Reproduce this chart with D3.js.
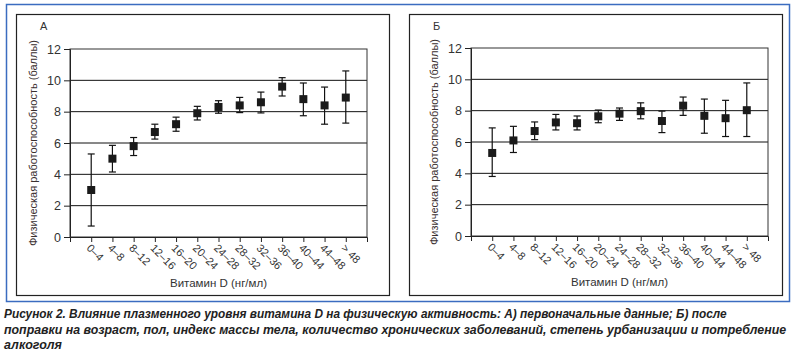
<!DOCTYPE html>
<html>
<head>
<meta charset="utf-8">
<script src="https://cdn.jsdelivr.net/npm/d3@7"></script>
<style>
  body { margin: 0; background: #fff; }
  text { font-family: "Liberation Sans", Arial, sans-serif; }
</style>
</head>
<body>
<div id="chart"></div>
<script>
let width = 797,
    height = 353;

const categories = ["0–4", "4–8", "8–12", "12–16", "16–20", "20–24", "24–28", "28–32", "32–36", "36–40", "40–44", "44–48", "> 48"];

// panel A: raw data
const meanA = [3.0, 5.0, 5.8, 6.7, 7.2, 7.9, 8.3, 8.4, 8.6, 9.6, 8.8, 8.4, 8.9];
const lowA  = [0.7, 4.15, 5.2, 6.25, 6.75, 7.47, 7.9, 7.94, 7.92, 9.0, 7.74, 7.2, 7.27];
const highA = [5.3, 5.85, 6.35, 7.2, 7.65, 8.34, 8.7, 8.91, 9.25, 10.17, 9.83, 9.57, 10.6];

// panel Б: adjusted
const meanB = [5.3, 6.1, 6.7, 7.25, 7.2, 7.64, 7.81, 7.97, 7.34, 8.32, 7.67, 7.52, 8.03];
const lowB  = [3.8, 5.33, 6.15, 6.77, 6.77, 7.23, 7.38, 7.48, 6.6, 7.7, 6.56, 6.35, 6.35];
const highB = [6.9, 7.0, 7.28, 7.76, 7.66, 8.04, 8.17, 8.5, 7.97, 8.87, 8.74, 8.66, 9.77];

const yTicks = [0, 2, 4, 6, 8, 10, 12];

const captionLines = [
  "Рисунок 2. Влияние плазменного уровня витамина D на физическую активность: А) первоначальные данные; Б) после",
  "поправки на возраст, пол, индекс массы тела, количество хронических заболеваний, степень урбанизации и потребление",
  "алкоголя"
];
const captionWidths = [723, 783, 58];

const svg = d3.select("#chart")
  .append("svg")
  .attr("width", width)
  .attr("height", height);

// blue frame round both panels
svg.append("rect")
  .attr("x", 6.5).attr("y", 4.5)
  .attr("width", 783).attr("height", 297)
  .attr("fill", "none")
  .attr("stroke", "#3b6cc0")
  .attr("stroke-width", 1.5);

function drawPanel(label, mean, low, high, box, plot) {
  const g = svg.append("g");

  g.append("rect")
    .attr("x", box.x + 0.5).attr("y", box.y + 0.5)
    .attr("width", box.w).attr("height", box.h)
    .attr("fill", "none").attr("stroke", "#222").attr("stroke-width", 1.2);

  g.append("text")
    .attr("x", box.x + 24).attr("y", box.y + 16)
    .attr("font-size", 11).attr("fill", "#333")
    .text(label);

  let x = d3.scalePoint()
    .domain(categories)
    .range([plot.l, plot.r])
    .padding(1);

  let y = d3.scaleLinear()
    .domain([0, 12])
    .range([plot.b, plot.t]);

  // grid lines
  g.append("g")
    .selectAll("line")
    .data(yTicks.slice(1, -1))
    .join("line")
    .attr("x1", plot.l).attr("x2", plot.r)
    .attr("y1", d => y(d)).attr("y2", d => y(d))
    .attr("stroke", "#111").attr("stroke-width", 1);

  // plot border
  g.append("rect")
    .attr("x", plot.l).attr("y", y(12))
    .attr("width", plot.r - plot.l).attr("height", y(0) - y(12))
    .attr("fill", "none").attr("stroke", "#333").attr("stroke-width", 1);

  const yAxis = g.append("g")
    .attr("transform", `translate(${plot.l},0)`)
    .call(d3.axisLeft(y).tickValues(yTicks).tickSize(6).tickPadding(3));
  yAxis.selectAll("text").attr("font-size", 12.5).attr("fill", "#333")
    .style("font-family", "'Liberation Sans', Arial, sans-serif");
  yAxis.selectAll("line, path").attr("stroke", "#222");

  const xAxis = g.append("g")
    .attr("transform", `translate(0,${plot.b})`)
    .call(d3.axisBottom(x).tickSize(5).tickSizeOuter(5));
  xAxis.selectAll("line, path").attr("stroke", "#222");
  xAxis.selectAll("text")
    .attr("font-size", 11).attr("fill", "#333")
    .style("font-family", "'Liberation Sans', Arial, sans-serif")
    .attr("text-anchor", "start")
    .attr("y", 0).attr("dy", "0.35em")
    .attr("transform", "translate(-3,9) rotate(45)");

  g.append("text")
    .attr("x", (plot.l + plot.r) / 2).attr("y", plot.b + 50)
    .attr("text-anchor", "middle")
    .attr("font-size", 11.5).attr("fill", "#333")
    .text("Витамин D (нг/мл)");

  g.append("text")
    .attr("transform", `translate(${plot.l - 33},${(plot.t + plot.b) / 2}) rotate(-90)`)
    .attr("text-anchor", "middle")
    .attr("font-size", 11).attr("fill", "#3a3030")
    .text("Физическая работоспособность (баллы)");

  const pts = categories.map((c, i) => ({ c, m: mean[i], lo: low[i], hi: high[i] }));

  const marks = g.append("g").selectAll("g").data(pts).join("g");
  marks.append("line")
    .attr("x1", d => x(d.c)).attr("x2", d => x(d.c))
    .attr("y1", d => y(d.lo)).attr("y2", d => y(d.hi))
    .attr("stroke", "#111").attr("stroke-width", 1.2);
  marks.selectAll(".cap")
    .data(d => [[d.c, d.lo], [d.c, d.hi]])
    .join("line")
    .attr("x1", d => x(d[0]) - 3.5).attr("x2", d => x(d[0]) + 3.5)
    .attr("y1", d => y(d[1])).attr("y2", d => y(d[1]))
    .attr("stroke", "#111").attr("stroke-width", 1.2);
  marks.append("rect")
    .attr("x", d => x(d.c) - 4).attr("y", d => y(d.m) - 4)
    .attr("width", 8).attr("height", 8)
    .attr("fill", "#1a1a1a");
}

drawPanel("А", meanA, lowA, highA, { x: 16, y: 14, w: 373, h: 281 }, { l: 70, t: 49, r: 367, b: 237 });
drawPanel("Б", meanB, lowB, highB, { x: 409, y: 14, w: 373, h: 281 }, { l: 471, t: 48, r: 768, b: 236 });

// caption: squeeze each line horizontally to the reference width
svg.append("g")
  .selectAll("text")
  .data(captionLines)
  .join("text")
  .attr("x", 0)
  .attr("y", 0)
  .attr("font-size", 13)
  .attr("font-weight", "bold")
  .attr("font-style", "italic")
  .attr("fill", "#222")
  .style("font-family", "'Liberation Sans', Arial, sans-serif")
  .text(d => d)
  .each(function(d, i) {
    const w = this.getComputedTextLength();
    const sx = captionWidths[i] / w;
    d3.select(this).attr("transform", `translate(4,${318 + i * 15.5}) scale(${sx},1)`);
  });
</script>
</body>
</html>
